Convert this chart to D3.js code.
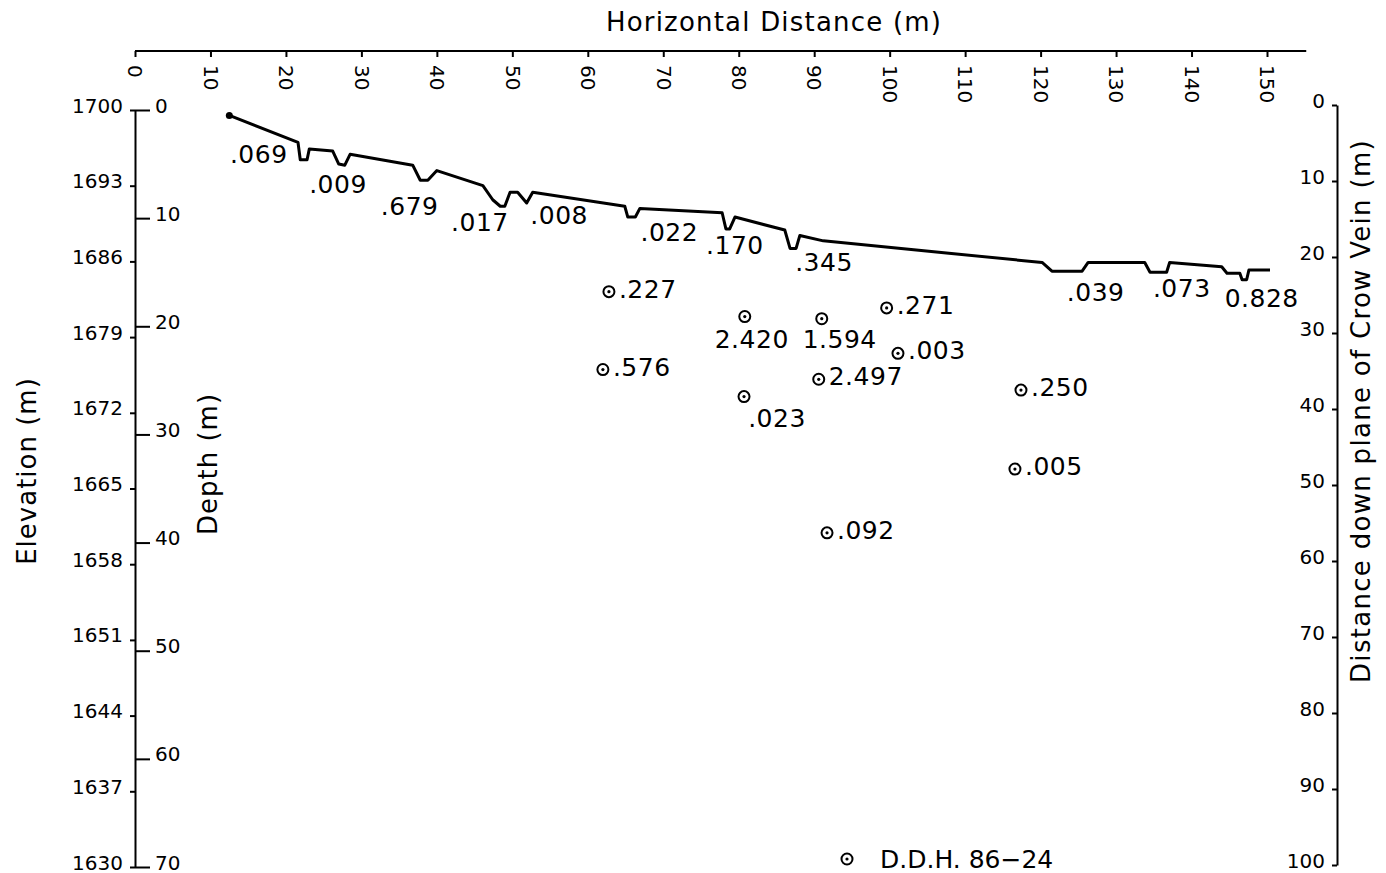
<!DOCTYPE html>
<html>
<head>
<meta charset="utf-8">
<script src="https://cdn.jsdelivr.net/npm/d3@7"></script>
<style>
  body { margin: 0; background: #fff; }
  svg text { font-family: "DejaVu Sans", sans-serif; fill: #000; }
</style>
</head>
<body>
<svg id="chart" width="1386" height="873"></svg>
<script>
// surface profile: horizontal distance (m) and elevation (m)
const profileX = [12.5, 21.6, 21.9, 22.8, 23.1, 26.2, 27.0, 27.8, 28.5, 36.8, 37.8, 38.8, 40.0,
  46.1, 47.4, 48.4, 49.0, 49.7, 50.7, 51.9, 52.7, 64.9, 65.3, 66.3, 66.9, 77.8, 78.3, 78.8, 79.5,
  86.1, 86.8, 87.6, 88.1, 91.2, 120.2, 121.5, 125.5, 126.3, 133.8, 134.5, 136.7, 137.1, 144.0,
  144.7, 146.4, 146.7, 147.3, 147.6, 150.4];
const profileElev = [1699.5, 1697.0, 1695.4, 1695.4, 1696.4, 1696.2, 1695.0, 1694.9, 1695.9, 1694.9, 1693.5, 1693.5, 1694.4,
  1693.0, 1691.7, 1691.1, 1691.1, 1692.4, 1692.4, 1691.4, 1692.4, 1691.1, 1690.1, 1690.1, 1690.9, 1690.5, 1689.0, 1689.0, 1690.1,
  1688.9, 1687.2, 1687.2, 1688.4, 1687.9, 1685.9, 1685.1, 1685.1, 1685.9, 1685.9, 1685.0, 1685.0, 1685.9, 1685.5,
  1684.9, 1684.9, 1684.3, 1684.3, 1685.2, 1685.2];

// surface channel samples: label anchor (m, m) and grade
const chanX = [16.4, 26.9, 36.4, 45.7, 56.2, 70.8, 79.5, 91.3, 127.3, 138.7, 149.3];
const chanElev = [1695.9, 1693.2, 1691.1, 1689.6, 1690.3, 1688.7, 1687.5, 1685.9, 1683.2, 1683.5, 1682.6];
const chanGrade = [".069", ".009", ".679", ".017", ".008", ".022", ".170", ".345", ".039", ".073", "0.828"];

// drill hole D.D.H. 86-24 samples
const holeX = [62.8, 80.8, 91.0, 99.6, 101.1, 62.0, 90.6, 80.7, 117.4, 116.6, 91.7];
const holeElev = [1683.2, 1680.9, 1680.7, 1681.7, 1677.5, 1676.0, 1675.1, 1673.5, 1674.1, 1666.8, 1660.9];
const holeGrade = [".227", "2.420", "1.594", ".271", ".003", ".576", "2.497", ".023", ".250", ".005", ".092"];

const xTicks = [0, 10, 20, 30, 40, 50, 60, 70, 80, 90, 100, 110, 120, 130, 140, 150];
const elevTicks = [1630, 1637, 1644, 1651, 1658, 1665, 1672, 1679, 1686, 1693, 1700];
const depthTicks = [0, 10, 20, 30, 40, 50, 60, 70];
const dipTicks = [0, 10, 20, 30, 40, 50, 60, 70, 80, 90, 100];

const svg = d3.select("#chart");

const x = d3.scaleLinear().domain([0, 150]).range([135, 1267]);
const elev = d3.scaleLinear().domain([1630, 1700]).range([867, 110]);
const depth = d3.scaleLinear().domain([0, 70]).range([110, 867]);
const dip = d3.scaleLinear().domain([0, 100]).range([105, 865]);

function styleAxis(g, size) {
  g.attr("font-family", null).attr("font-size", null);
  g.selectAll("line").attr("stroke-width", 2);
  g.selectAll(".domain").attr("stroke-width", 2);
  g.selectAll("text").style("font-size", size + "px");
}

// top axis
const gTop = svg.append("g")
  .attr("transform", "translate(0,51)")
  .call(d3.axisBottom(x).tickValues(xTicks).tickFormat(d3.format("d")).tickSize(6).tickSizeOuter(0));
gTop.select(".domain").remove();
gTop.append("line")
  .attr("x1", x(0)).attr("x2", x(155.2))
  .attr("stroke", "#000").attr("stroke-width", 2);
styleAxis(gTop, 20);
gTop.selectAll(".tick text")
  .attr("transform", "rotate(90)")
  .attr("x", 14).attr("y", 0).attr("dy", "0.36em")
  .attr("text-anchor", "start");

svg.append("text")
  .attr("x", 774).attr("y", 31)
  .attr("text-anchor", "middle")
  .style("font-size", "26px")
  .style("letter-spacing", "1.2px")
  .text("Horizontal Distance (m)");

// left axes: elevation and depth
const gEl = svg.append("g")
  .attr("transform", `translate(${x(0)},0)`)
  .call(d3.axisLeft(elev).tickValues(elevTicks).tickFormat(d3.format("d")).tickSize(5).tickSizeOuter(0).tickPadding(7));
styleAxis(gEl, 20);
gEl.selectAll(".tick text").attr("dy", 0).attr("y", 2);

const gDe = svg.append("g")
  .attr("transform", `translate(${x(0)},0)`)
  .call(d3.axisRight(depth).tickValues(depthTicks).tickFormat(d3.format("d")).tickSize(15).tickSizeOuter(0).tickPadding(5));
gDe.select(".domain").remove();
styleAxis(gDe, 20);
gDe.selectAll(".tick text").attr("dy", 0).attr("y", 2);

svg.append("text")
  .attr("transform", "translate(36,471) rotate(-90)")
  .attr("text-anchor", "middle")
  .style("font-size", "26px")
  .style("letter-spacing", "1px")
  .text("Elevation (m)");

svg.append("text")
  .attr("transform", "translate(217,464) rotate(-90)")
  .attr("text-anchor", "middle")
  .style("font-size", "26px")
  .style("letter-spacing", "1px")
  .text("Depth (m)");

// right axis: distance down the vein
const gDip = svg.append("g")
  .attr("transform", "translate(1337,0)")
  .call(d3.axisLeft(dip).tickValues(dipTicks).tickFormat(d3.format("d")).tickSize(5).tickSizeOuter(0).tickPadding(7));
styleAxis(gDip, 20);
gDip.selectAll(".tick text").attr("dy", 0).attr("y", 2);

svg.append("text")
  .attr("transform", "translate(1370,411) rotate(-90)")
  .attr("text-anchor", "middle")
  .style("font-size", "26px")
  .style("letter-spacing", "1.3px")
  .text("Distance down plane of Crow Vein (m)");

// surface profile
const profile = profileX.map((d, i) => [d, profileElev[i]]);
svg.append("path")
  .datum(profile)
  .attr("fill", "none")
  .attr("stroke", "#000")
  .attr("stroke-width", 3)
  .attr("stroke-linejoin", "round")
  .attr("d", d3.line().x(d => x(d[0])).y(d => elev(d[1])));

svg.append("circle")
  .attr("cx", x(profileX[0])).attr("cy", elev(profileElev[0]))
  .attr("r", 3.5).attr("fill", "#000");

svg.selectAll(".chan")
  .data(chanGrade)
  .join("text")
  .attr("class", "chan")
  .attr("x", (d, i) => x(chanX[i]))
  .attr("y", (d, i) => elev(chanElev[i]))
  .attr("dy", "0.36em")
  .attr("text-anchor", "middle")
  .style("font-size", "25px")
  .style("letter-spacing", "0.5px")
  .text(d => d);

// drill hole samples
function marker(g, cx, cy) {
  g.append("circle").attr("cx", cx).attr("cy", cy).attr("r", 5.5)
    .attr("fill", "none").attr("stroke", "#000").attr("stroke-width", 2);
  g.append("circle").attr("cx", cx).attr("cy", cy).attr("r", 1.6).attr("fill", "#000");
}

const below = { "2.420": [7, 22], "1.594": [18, 20], ".023": [33, 21] };

const gHole = svg.append("g");
holeGrade.forEach((g, i) => {
  const cx = x(holeX[i]), cy = elev(holeElev[i]);
  marker(gHole, cx, cy);
  const t = gHole.append("text")
    .attr("dy", "0.36em")
    .style("font-size", "25px")
    .style("letter-spacing", "0.5px")
    .text(g);
  if (below[g]) {
    t.attr("x", cx + below[g][0]).attr("y", cy + below[g][1]).attr("text-anchor", "middle");
  } else {
    t.attr("x", cx + 10).attr("y", cy - 3).attr("text-anchor", "start");
  }
});

// legend
const gLeg = svg.append("g");
marker(gLeg, 847, 859);
gLeg.append("text")
  .attr("x", 880).attr("y", 859).attr("dy", "0.36em")
  .style("font-size", "25px")
  .text("D.D.H.  86\u221224");
</script>
</body>
</html>
